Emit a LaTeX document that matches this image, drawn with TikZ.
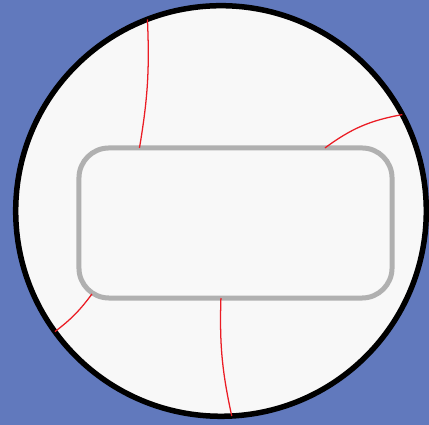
\documentclass[tikz,border=0pt]{standalone}
\usetikzlibrary{calc}
\definecolor{ringBg}{RGB}{97,121,189}
\definecolor{ringFill}{RGB}{248,248,248}
\definecolor{boxEdge}{RGB}{176,176,176}
\definecolor{linkRed}{RGB}{235,28,36}

\begin{document}
\begin{tikzpicture}[x=0.025cm,y=0.025cm,
    ringNode/.style={circle,draw=black,fill=ringFill,line width=0.1375cm,
      minimum size=10.2625cm,inner sep=0pt,outer sep=0pt},
    boxNode/.style={rectangle,rounded corners=0.75cm,draw=boxEdge,fill=ringFill,
      line width=0.125cm,minimum width=7.825cm,minimum height=3.75cm,
      inner sep=0pt,outer sep=0pt},
    link/.style={draw=linkRed,line width=0.9pt}]
    \useasboundingbox (0,0) rectangle (429,425);
    \fill[ringBg] (0,0) rectangle (429,425);
    \node[ringNode] (ring) at (221,214) {};
    \node[boxNode] (box) at (235.5,202) {};
    \coordinate (boxCorner) at ($(box.south west)+(13,4)$);
    \draw[link] (box.142.5) to[bend right=6] (ring.111);
    \draw[link] (box.40) to[bend left=13] (ring.28);
    \draw[link] (boxCorner) to[bend left=8] (ring.216);
    \draw[link] (box.259) to[bend right=7] (ring.273);
  \end{tikzpicture}
\end{document}
